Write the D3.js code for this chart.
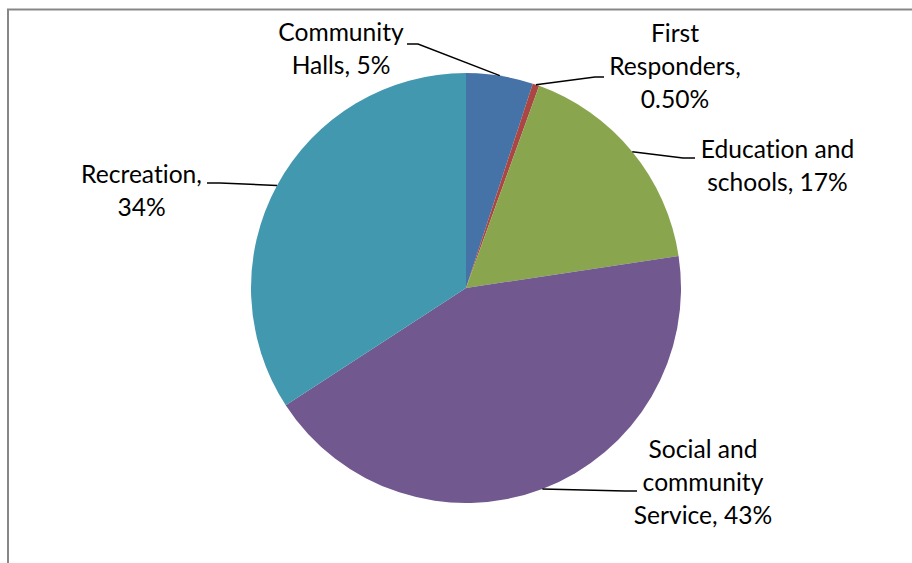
<!DOCTYPE html>
<html>
<head>
<meta charset="utf-8">
<script src="https://cdn.jsdelivr.net/npm/d3@7"></script>
<style>
  html, body { margin: 0; padding: 0; background: #fff; }
  svg { display: block; }
  text { font-family: Lato, "Noto Sans", sans-serif; fill: #000; font-variant-ligatures: none; }
</style>
</head>
<body>
<svg id="chart" width="912" height="563"></svg>
<script>
// Share of spending by category (percent)
const categories = ["Community Halls", "First Responders", "Education and schools", "Social and community Service", "Recreation"];
const values = [5, 0.5, 17, 43, 34];
const valueLabels = ["5%", "0.50%", "17%", "43%", "34%"];
const labelLines = [
  ["Community", "Halls, 5%"],
  ["First", "Responders,", "0.50%"],
  ["Education and", "schools, 17%"],
  ["Social and", "community", "Service, 43%"],
  ["Recreation,", "34%"]
];
const colors = ["#4572A7", "#AA4643", "#89A54E", "#71588F", "#4198AF"];

// Label layout: text centre x, first baseline y, and leader-line elbow/end points
const labelLayout = [
  { x: 341, y: 40.5, leader: [[418, 44], [407, 44]] },
  { x: 675, y: 41.5, leader: [[595, 77], [604, 77]] },
  { x: 777.5, y: 158, leader: [[683, 158], [695, 158]] },
  { x: 703, y: 458, leader: [[625, 491], [637, 491]] },
  { x: 141.5, y: 182.5, leader: [[220, 183], [207, 183]] }
];

const W = 912, H = 563;
const cx = 466, cy = 288, R = 215;
const lineH = 33;

const svg = d3.select("#chart");

// Chart-area frame
svg.append("rect")
  .attr("x", 8).attr("y", 9.5)
  .attr("width", W + 20).attr("height", H + 20)
  .attr("fill", "none")
  .attr("stroke", "#878787")
  .attr("stroke-width", 2);

const data = categories.map((c, i) => ({ name: c, value: values[i], color: colors[i], lines: labelLines[i], layout: labelLayout[i] }));

const pie = d3.pie().sort(null).value(d => d.value).startAngle(0).endAngle(2 * Math.PI);
const arcs = pie(data);

const arc = d3.arc().innerRadius(0).outerRadius(R);
const edge = d3.arc().innerRadius(R).outerRadius(R);

const g = svg.append("g").attr("transform", `translate(${cx},${cy})`);

g.selectAll("path.slice")
  .data(arcs)
  .join("path")
  .attr("class", "slice")
  .attr("d", arc)
  .attr("fill", d => d.data.color);

// Leader lines from each slice edge to its label
svg.selectAll("path.leader")
  .data(arcs)
  .join("path")
  .attr("class", "leader")
  .attr("fill", "none")
  .attr("stroke", "#000")
  .attr("stroke-width", 1.5)
  .attr("d", d => {
    const [px, py] = edge.centroid(d);
    return d3.line()([[cx + px, cy + py], ...d.data.layout.leader]);
  });

// Data labels
const labels = svg.selectAll("text.label")
  .data(arcs)
  .join("text")
  .attr("class", "label")
  .attr("text-anchor", "middle")
  .attr("font-size", 24.6);

labels.selectAll("tspan")
  .data(d => d.data.lines.map((t, i) => ({ t, i, lay: d.data.layout })))
  .join("tspan")
  .attr("x", d => d.lay.x)
  .attr("y", d => d.lay.y + d.i * lineH)
  .text(d => d.t);
</script>
</body>
</html>
